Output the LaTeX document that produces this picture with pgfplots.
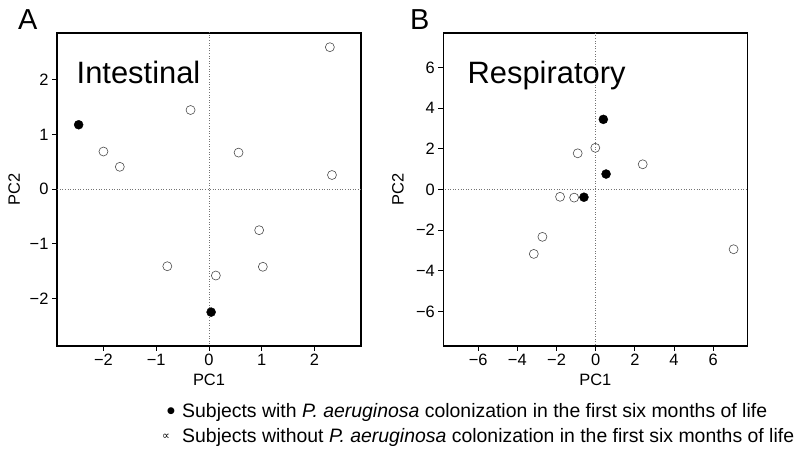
\documentclass[border=0pt]{standalone}
\usepackage{fontspec}
\setmainfont{Liberation Sans}
\newfontfamily\symfont{DejaVu Sans}
\usepackage{pgfplots}
\pgfplotsset{compat=1.18}
\begin{document}
\begin{tikzpicture}[x=1bp,y=1bp]
\useasboundingbox (0,0) rectangle (800,453);
\pgfplotsset{
  myax/.style={
    anchor=south west, scale only axis, width=304bp, height=313bp,
    axis line style={line width=1.3bp, black},
    tick align=outside, major tick length=5bp,
    tick style={black, line width=1bp},
    xtick pos=lower, ytick pos=left,
    tick label style={font=\fontsize{16.5}{16.5}\selectfont},
    /pgf/number format/assume math mode=true,
    xlabel={PC1}, ylabel={PC2},
    every axis x label/.style={at={(axis description cs:0.5,0)}, anchor=center, yshift=-34bp, font=\fontsize{16.5}{16.5}\selectfont},
    clip=true,
  },
  openm/.style={only marks, mark=o, mark size=4.5bp, mark options={draw=black!70, line width=0.6bp}},
  fullm/.style={only marks, mark=*, mark size=4.5bp, mark options={fill=black, draw=black}},
}
% Panel A
\begin{axis}[myax, at={(57bp,107bp)},
  xmin=-2.88, xmax=2.88, ymin=-2.87, ymax=2.86,
  xtick={-2,-1,0,1,2}, xticklabels={−2,−1,0,1,2},
  ytick={-2,-1,0,1,2}, yticklabels={−2,−1,0,1,2},
  every axis y label/.style={at={(axis description cs:-0.141,0.5)}, anchor=center, rotate=90, font=\fontsize{16.5}{16.5}\selectfont},
]
\addplot[dotted, black!55, line width=0.6bp, forget plot] coordinates {(0,-10) (0,10)};
\addplot[dotted, black!55, line width=0.6bp, forget plot] coordinates {(-10,0) (10,0)};
\addplot[openm] coordinates {
 (-2.00,0.69) (-1.69,0.41) (-0.35,1.45) (0.56,0.67) (0.95,-0.75)
 (1.02,-1.42) (-0.79,-1.41) (0.13,-1.58) (2.29,2.60) (2.33,0.26)};
\addplot[fullm] coordinates {(-2.47,1.18) (0.04,-2.25)};
\node[anchor=base west, font=\fontsize{31}{31}\selectfont, inner sep=0] at (axis cs:-2.51,1.94) {Intestinal};
\end{axis}
% Panel B
\begin{axis}[myax, at={(443.3bp,107bp)},
  xmin=-7.78, xmax=7.74, ymin=-7.7, ymax=7.7,
  xtick={-6,-4,-2,0,2,4,6}, xticklabels={−6,−4,−2,0,2,4,6},
  ytick={-6,-4,-2,0,2,4,6}, yticklabels={−6,−4,−2,0,2,4,6},
  every axis y label/.style={at={(axis description cs:-0.149,0.5)}, anchor=center, rotate=90, font=\fontsize{16.5}{16.5}\selectfont},
]
\addplot[dotted, black!55, line width=0.6bp, forget plot] coordinates {(0,-20) (0,20)};
\addplot[dotted, black!55, line width=0.6bp, forget plot] coordinates {(-20,0) (20,0)};
\addplot[openm] coordinates {
 (-0.02,2.05) (-0.92,1.78) (2.40,1.24) (-1.82,-0.36) (-1.10,-0.40)
 (-2.72,-2.33) (-3.16,-3.17) (7.04,-2.94)};
\addplot[fullm] coordinates {(0.39,3.45) (0.53,0.76) (-0.60,-0.38)};
\node[anchor=base west, font=\fontsize{31}{31}\selectfont, inner sep=0] at (axis cs:-6.55,5.22) {Respiratory};
\end{axis}
% Panel letters
\node[anchor=base west, inner sep=0, font=\fontsize{29}{29}\selectfont] at (18,423) {A};
\node[anchor=base west, inner sep=0, font=\fontsize{29}{29}\selectfont] at (410,423) {B};
% Legend
\node[anchor=center, inner sep=0, font=\symfont\fontsize{9}{9}\selectfont] at (171,42) {●};
\node[anchor=base west, inner sep=0, font=\fontsize{19.5}{19.5}\selectfont] at (182,35.5) {Subjects with \textit{P. aeruginosa} colonization in the first six months of life};
\node[anchor=base west, inner sep=0, font=\fontsize{19.5}{19.5}\selectfont] at (182,10) {Subjects without \textit{P. aeruginosa} colonization in the first six months of life};
\node[anchor=base, inner sep=0, font=\symfont\fontsize{11}{11}\selectfont] at (166,13) {∝};
\end{tikzpicture}
\end{document}
